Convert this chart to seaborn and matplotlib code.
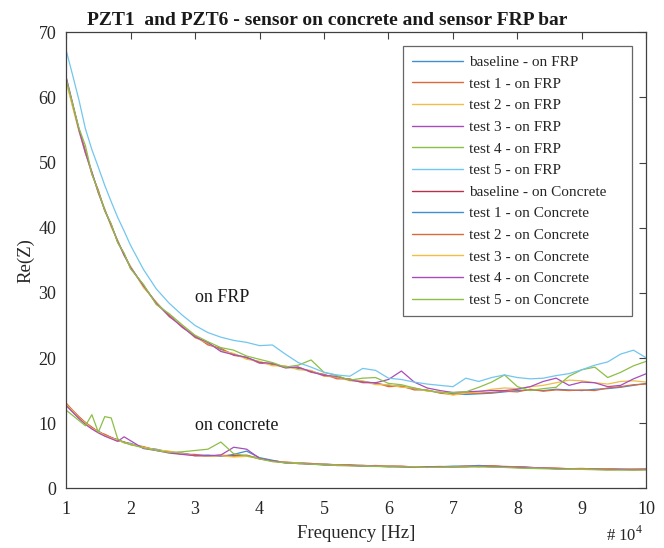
import numpy as np
import pandas as pd
import matplotlib
matplotlib.use("Agg")
import matplotlib.pyplot as plt
import seaborn as sns

# ---------------- data ----------------
freq = [1.0, 1.1, 1.2, 1.3, 1.4, 1.5, 1.6, 1.7, 1.8, 1.9, 2.0,
        2.2, 2.4, 2.6, 2.8, 3.0, 3.2, 3.4, 3.6, 3.8, 4.0,
        4.2, 4.4, 4.6, 4.8, 5.0, 5.2, 5.4, 5.6, 5.8, 6.0,
        6.2, 6.4, 6.6, 6.8, 7.0, 7.2, 7.4, 7.6, 7.8, 8.0,
        8.2, 8.4, 8.6, 8.8, 9.0, 9.2, 9.4, 9.6, 9.8, 10.0]

frp_baseline = [63.0, 59.0, 55.2, 51.6, 48.4, 45.5, 42.8, 40.3, 38.0, 35.9, 34.0,
                31.0, 28.5, 26.5, 24.9, 23.3, 22.2, 21.3, 20.6, 20.0, 19.4,
                19.0, 18.7, 18.4, 18.0, 17.4, 17.0, 16.7, 16.4, 16.1, 15.8,
                15.6, 15.3, 15.0, 14.7, 14.5, 14.4, 14.5, 14.6, 14.8, 15.0,
                15.1, 15.0, 15.2, 15.1, 15.0, 15.2, 15.3, 15.5, 15.8, 16.1]
frp_test1 = [62.8, 58.8, 55.0, 51.8, 48.2, 45.8, 42.6, 40.5, 37.8, 36.0, 33.8,
             31.2, 28.3, 26.6, 24.7, 23.4, 22.0, 21.5, 20.4, 20.1, 19.2,
             19.1, 18.5, 18.6, 17.8, 17.5, 16.8, 16.8, 16.2, 16.2, 15.6,
             15.7, 15.1, 15.1, 14.6, 14.4, 14.6, 14.6, 14.7, 14.9, 14.8,
             15.2, 14.9, 15.1, 15.0, 15.1, 15.0, 15.4, 15.6, 15.9, 16.0]
frp_test2 = [62.5, 58.6, 54.8, 51.4, 48.5, 45.3, 42.9, 40.1, 38.1, 35.7, 34.1,
             30.8, 28.6, 26.3, 25.0, 23.1, 22.3, 21.1, 20.7, 19.8, 19.5,
             18.8, 18.8, 18.2, 18.1, 17.2, 17.1, 16.5, 16.5, 15.9, 15.9,
             15.5, 15.4, 14.9, 14.8, 14.3, 14.6, 14.8, 15.2, 15.4, 15.3,
             15.6, 15.8, 16.2, 16.6, 16.5, 16.2, 16.0, 16.4, 16.5, 16.3]
frp_test3 = [63.2, 59.2, 55.0, 51.5, 48.6, 45.4, 42.7, 40.4, 37.9, 35.8, 33.9,
             31.1, 28.4, 26.4, 24.8, 23.2, 22.4, 21.0, 20.5, 20.1, 19.3,
             19.2, 18.5, 18.6, 17.9, 17.3, 17.2, 16.6, 16.3, 16.2, 16.7,
             18.0, 16.3, 15.4, 15.0, 14.7, 14.8, 14.9, 15.0, 15.0, 15.2,
             15.6, 16.4, 16.9, 15.8, 16.3, 16.2, 15.6, 15.8, 16.8, 17.6]
frp_test4 = [62.9, 59.1, 55.3, 52.6, 48.3, 45.6, 42.6, 40.6, 37.7, 36.1, 33.7,
             31.3, 28.2, 26.8, 25.1, 23.5, 22.5, 21.6, 21.2, 20.3, 19.8,
             19.3, 18.6, 18.9, 19.7, 17.8, 17.3, 16.6, 16.9, 17.0, 16.1,
             15.9, 15.4, 15.0, 14.7, 14.7, 14.8, 15.5, 16.3, 17.4, 15.6,
             15.0, 15.3, 15.5, 17.2, 18.2, 18.6, 17.0, 17.8, 18.8, 19.5]
frp_test5 = [67.3, 63.5, 59.6, 55.2, 52.0, 49.3, 46.5, 44.0, 41.6, 39.5, 37.3,
             33.6, 30.6, 28.4, 26.6, 25.0, 23.9, 23.2, 22.7, 22.4, 21.9,
             22.0, 20.6, 19.3, 18.6, 17.8, 17.4, 17.2, 18.4, 18.1, 16.9,
             16.7, 16.3, 16.0, 15.8, 15.6, 16.9, 16.4, 17.0, 17.4, 17.0,
             16.8, 16.9, 17.3, 17.6, 18.2, 18.9, 19.4, 20.6, 21.2, 20.0]

con_baseline = [13.0, 11.9, 10.9, 10.0, 9.3, 8.7, 8.2, 7.8, 7.4, 7.1, 6.8,
                6.3, 5.9, 5.6, 5.3, 5.1, 5.0, 5.0, 5.0, 5.0, 4.6,
                4.2, 4.0, 3.9, 3.8, 3.7, 3.6, 3.55, 3.5, 3.45, 3.4,
                3.35, 3.3, 3.3, 3.3, 3.3, 3.35, 3.4, 3.4, 3.35, 3.3,
                3.2, 3.1, 3.05, 3.0, 3.0, 2.95, 2.95, 2.9, 2.9, 2.9]
con_test1 = [12.8, 11.8, 10.8, 10.1, 9.2, 8.8, 8.1, 7.7, 7.5, 7.0, 6.9,
             6.2, 6.0, 5.5, 5.4, 5.0, 5.1, 4.9, 5.2, 5.7, 4.7,
             4.3, 3.9, 3.9, 3.7, 3.7, 3.6, 3.5, 3.5, 3.4, 3.4,
             3.3, 3.3, 3.2, 3.3, 3.4, 3.4, 3.5, 3.4, 3.3, 3.3,
             3.2, 3.1, 3.0, 3.0, 2.9, 3.0, 2.9, 2.9, 2.85, 2.9]
con_test2 = [13.1, 12.0, 11.0, 10.1, 9.4, 8.6, 8.3, 7.8, 7.3, 7.1, 6.7,
             6.4, 5.8, 5.6, 5.2, 5.2, 4.9, 5.1, 4.9, 5.1, 4.5,
             4.2, 4.0, 3.8, 3.8, 3.6, 3.6, 3.6, 3.4, 3.5, 3.35,
             3.4, 3.25, 3.3, 3.35, 3.3, 3.4, 3.3, 3.45, 3.3, 3.3,
             3.15, 3.1, 3.1, 3.0, 3.05, 2.95, 3.0, 2.9, 2.95, 2.95]
con_test3 = [12.9, 11.9, 10.8, 10.0, 9.2, 8.7, 8.1, 7.7, 7.4, 7.0, 6.8,
             6.3, 5.9, 5.7, 5.3, 5.0, 4.9, 5.0, 4.8, 4.9, 4.6,
             4.1, 4.0, 3.9, 3.7, 3.7, 3.55, 3.5, 3.5, 3.4, 3.4,
             3.3, 3.3, 3.3, 3.25, 3.3, 3.3, 3.35, 3.3, 3.3, 3.2,
             3.15, 3.1, 3.0, 3.0, 2.95, 2.9, 2.9, 2.85, 2.85, 2.85]
con_test4 = [12.7, 11.7, 10.7, 9.8, 9.1, 8.5, 8.0, 7.6, 7.2, 7.9, 7.3,
             6.1, 5.8, 5.4, 5.2, 5.0, 5.0, 5.1, 6.3, 6.0, 4.6,
             4.2, 3.9, 3.8, 3.7, 3.6, 3.5, 3.5, 3.4, 3.4, 3.3,
             3.3, 3.2, 3.3, 3.3, 3.3, 3.3, 3.4, 3.3, 3.3, 3.2,
             3.1, 3.1, 3.0, 2.95, 2.9, 2.9, 2.85, 2.9, 2.85, 2.9]
con_test5 = [12.0, 11.2, 10.4, 9.6, 11.3, 8.6, 11.0, 10.8, 7.6, 7.0, 6.7,
             6.2, 5.8, 5.5, 5.6, 5.8, 6.0, 7.1, 5.3, 5.0, 4.5,
             4.1, 3.9, 3.8, 3.7, 3.6, 3.5, 3.45, 3.4, 3.35, 3.3,
             3.3, 3.25, 3.2, 3.25, 3.3, 3.3, 3.3, 3.25, 3.2, 3.1,
             3.05, 3.0, 2.95, 2.9, 2.9, 2.85, 2.8, 2.8, 2.8, 2.8]

series_labels = ["baseline - on FRP", "test 1 - on FRP", "test 2 - on FRP",
                 "test 3 - on FRP", "test 4 - on FRP", "test 5 - on FRP",
                 "baseline - on Concrete", "test 1 - on Concrete",
                 "test 2 - on Concrete", "test 3 - on Concrete",
                 "test 4 - on Concrete", "test 5 - on Concrete"]
series_values = [frp_baseline, frp_test1, frp_test2, frp_test3, frp_test4, frp_test5,
                 con_baseline, con_test1, con_test2, con_test3, con_test4, con_test5]

x_ticks = [1, 2, 3, 4, 5, 6, 7, 8, 9, 10]
y_ticks = [0, 10, 20, 30, 40, 50, 60, 70]

# MATLAB default colour order (as rendered, slightly washed out)
matlab_colors = ["#3d8fd1", "#e0673a", "#f0bd45", "#a84cbc",
                 "#8cbf45", "#72c6ee", "#b8304a"]

# ---------------- plotting ----------------
sns.set_style("white")
plt.rcParams["font.family"] = ["Liberation Serif", "DejaVu Serif"]
plt.rcParams["mathtext.fontset"] = "custom"
plt.rcParams["mathtext.rm"] = "Liberation Serif"

fig = plt.figure(figsize=(6.64, 5.48), dpi=100)
ax = fig.add_axes([0.0995, 0.109, 0.874, 0.832])

for i, (lab, vals) in enumerate(zip(series_labels, series_values)):
    assert len(vals) == len(freq), lab
    df = pd.DataFrame({"freq": freq, "val": vals})
    sns.lineplot(data=df, x="freq", y="val", ax=ax, label=lab,
                 color=matlab_colors[i % 7], linewidth=0.9, estimator=None)

ax.set_xlim(1, 10)
ax.set_ylim(0, 70)
ax.set_xticks(x_ticks)
ax.set_yticks(y_ticks)
ax.set_xticklabels([str(t) for t in x_ticks])
ax.set_yticklabels([str(t) for t in y_ticks])
ax.tick_params(axis="both", which="both", direction="in", length=5, width=0.8,
               top=True, right=True, labelsize=13, colors="#404040",
               labelcolor="#262626")
ax.tick_params(axis="x", pad=9)
ax.tick_params(axis="y", pad=7)
for sp in ax.spines.values():
    sp.set_color("#404040")
    sp.set_linewidth(0.9)

ax.set_xlabel("Frequency [Hz]", fontsize=13.5, color="#262626", labelpad=5)
ax.set_ylabel("Re(Z)", fontsize=13.5, color="#262626", labelpad=3)

fig.text(327 / 664, 1 - 25 / 548,
         "PZT1  and PZT6 - sensor on concrete and sensor FRP bar",
         fontsize=14, fontweight="bold", color="#1a1a1a",
         ha="center", va="baseline")

ax.text(3.0, 29.3, "on FRP", fontsize=13, va="center", ha="left", color="#1a1a1a")
ax.text(3.0, 9.6, "on concrete", fontsize=13, va="center", ha="left", color="#1a1a1a")

fig.text(0.969, 0.006, r"# 10$^{4}$", fontsize=12, ha="right", va="bottom",
         color="#262626")

leg = ax.legend(loc="upper left", bbox_to_anchor=(0.581, 0.0, 0.395, 0.969),
                mode="expand", fontsize=11,
                frameon=True, fancybox=False, edgecolor="#404040",
                handlelength=3.3, handletextpad=0.4, labelspacing=0.52,
                borderpad=0.58, borderaxespad=0.0)
leg.get_frame().set_linewidth(0.9)
for line in leg.get_lines():
    line.set_linewidth(1.0)

fig.savefig("out.png", dpi=100)
